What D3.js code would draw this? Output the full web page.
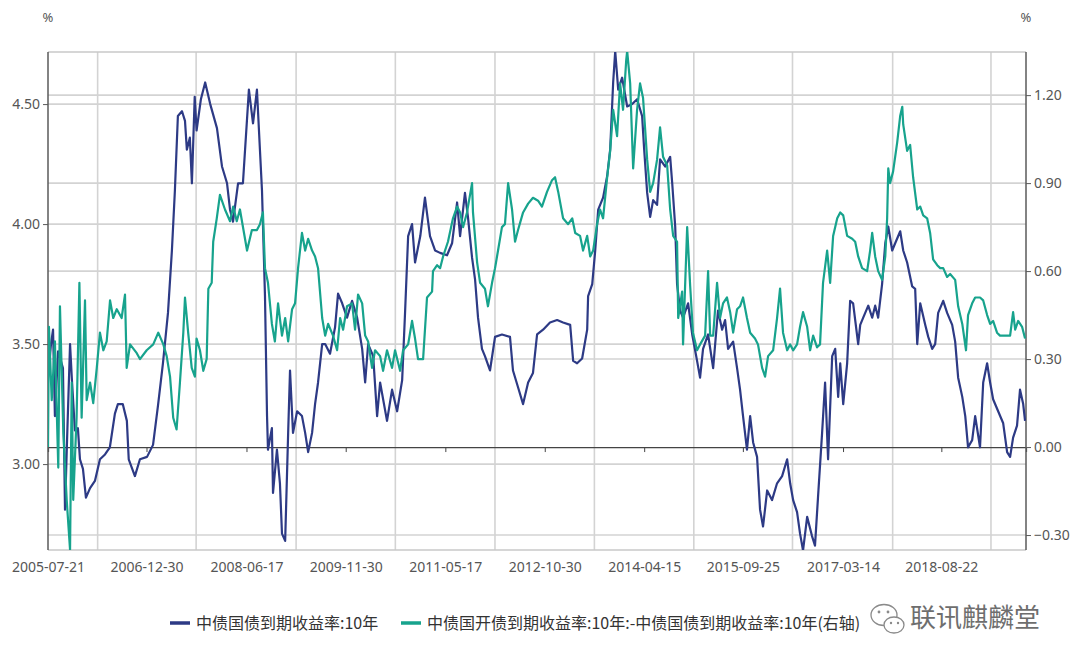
<!DOCTYPE html>
<html><head><meta charset="utf-8">
<script src="https://cdn.jsdelivr.net/npm/d3@7"></script>
<style>
html,body{margin:0;padding:0;background:#fff;}
svg{display:block;}
</style></head><body>
<svg id="chart" width="1080" height="665"></svg>
<script>
// ---------- data ----------
// dates are ISO-8601 ordinal dates (YYYY-DDD)
const xTickLabels = ["2005-07-21","2006-12-30","2008-06-17","2009-11-30","2011-05-17","2012-10-30","2014-04-15","2015-09-25","2017-03-14","2018-08-22"];
const xDomain = ["2005-07-21","2019-11-18"];
const leftTicks = [3.00, 3.50, 4.00, 4.50];
const rightTicks = [-0.30, 0.00, 0.30, 0.60, 0.90, 1.20];
const leftRange = [2.642, 4.717];
const rightRange = [-0.351, 1.347];
const seriesNames = ["中债国债到期收益率:10年", "中债国开债到期收益率:10年:-中债国债到期收益率:10年(右轴)"];
const unitLabel = "%";
const watermark = "联讯麒麟堂";

// 中债国债到期收益率:10年 (left axis)
const govYield = [
["2005-202",3.36],["2005-218",3.50],["2005-229",3.56],["2005-239",3.20],["2005-256",3.47],["2005-282",3.40],["2005-293",2.81],["2005-304",3.10],["2005-320",3.50],["2005-330",3.35],["2005-346",3.14],["2005-362",3.15],
["2006-008",3.02],["2006-024",2.98],["2006-040",2.86],["2006-062",2.90],["2006-088",2.93],["2006-115",3.02],["2006-142",3.04],["2006-168",3.07],["2006-195",3.21],["2006-211",3.25],["2006-237",3.25],["2006-259",3.18],["2006-269",3.02],["2006-302",2.95],["2006-329",3.02],
["2007-002",3.03],["2007-034",3.08],["2007-060",3.24],["2007-087",3.42],["2007-114",3.63],["2007-135",3.89],["2007-151",4.14],["2007-167",4.45],["2007-189",4.47],["2007-205",4.43],["2007-215",4.31],["2007-231",4.36],["2007-242",4.17],["2007-257",4.53],["2007-267",4.39],["2007-290",4.52],["2007-313",4.59],["2007-340",4.50],
["2008-011",4.40],["2008-038",4.24],["2008-065",4.17],["2008-081",4.06],["2008-097",4.01],["2008-124",4.17],["2008-150",4.17],["2008-182",4.56],["2008-204",4.42],["2008-225",4.56],["2008-241",4.31],["2008-252",4.14],["2008-268",3.70],["2008-279",3.20],["2008-284",3.06],["2008-305",3.15],["2008-311",2.88],["2008-332",3.06],["2008-348",2.92],["2008-359",2.71],
["2009-010",2.68],["2009-026",3.13],["2009-036",3.39],["2009-052",3.13],["2009-074",3.22],["2009-100",3.20],["2009-117",3.13],["2009-133",3.05],["2009-154",3.13],["2009-170",3.25],["2009-186",3.34],["2009-208",3.50],["2009-224",3.50],["2009-250",3.46],["2009-277",3.57],["2009-293",3.71],["2009-315",3.67],["2009-341",3.61],
["2010-003",3.68],["2010-030",3.61],["2010-057",3.48],["2010-073",3.34],["2010-089",3.50],["2010-116",3.45],["2010-137",3.20],["2010-153",3.34],["2010-190",3.18],["2010-217",3.31],["2010-244",3.22],["2010-271",3.35],["2010-287",3.64],["2010-303",3.95],["2010-324",4.00],["2010-340",3.84],
["2011-003",3.95],["2011-028",4.11],["2011-055",3.95],["2011-082",3.89],["2011-109",3.88],["2011-146",3.87],["2011-173",3.92],["2011-200",4.09],["2011-216",3.95],["2011-242",4.13],["2011-258",4.03],["2011-280",3.86],["2011-296",3.77],["2011-312",3.61],["2011-333",3.48],["2011-349",3.45],
["2012-011",3.39],["2012-038",3.53],["2012-075",3.54],["2012-118",3.53],["2012-134",3.39],["2012-161",3.32],["2012-188",3.25],["2012-215",3.34],["2012-241",3.38],["2012-263",3.54],["2012-295",3.56],["2012-332",3.59],
["2013-004",3.60],["2013-036",3.59],["2013-074",3.58],["2013-090",3.43],["2013-111",3.42],["2013-138",3.44],["2013-165",3.56],["2013-170",3.70],["2013-192",3.75],["2013-208",3.89],["2013-224",4.06],["2013-250",4.11],["2013-272",4.20],["2013-288",4.31],["2013-304",4.59],["2013-315",4.72],["2013-331",4.56],["2013-352",4.61],
["2014-014",4.49],["2014-041",4.50],["2014-067",4.52],["2014-094",4.45],["2014-105",4.31],["2014-121",4.13],["2014-137",4.03],["2014-153",4.10],["2014-174",4.08],["2014-190",4.27],["2014-217",4.24],["2014-244",4.28],["2014-255",4.17],["2014-271",3.99],["2014-281",3.75],["2014-297",3.64],["2014-313",3.61],["2014-340",3.67],["2014-362",3.54],
["2015-023",3.43],["2015-039",3.36],["2015-055",3.48],["2015-082",3.54],["2015-109",3.40],["2015-135",3.64],["2015-157",3.56],["2015-173",3.60],["2015-189",3.48],["2015-216",3.51],["2015-237",3.40],["2015-253",3.31],["2015-269",3.20],["2015-290",3.06],["2015-307",3.20],["2015-323",3.09],["2015-344",3.03],["2015-360",2.81],
["2016-011",2.74],["2016-033",2.89],["2016-059",2.85],["2016-086",2.92],["2016-113",2.95],["2016-140",3.02],["2016-156",2.92],["2016-172",2.85],["2016-193",2.80],["2016-209",2.71],["2016-225",2.64],["2016-247",2.78],["2016-273",2.70],["2016-289",2.66],["2016-305",2.86],["2016-327",3.13],["2016-343",3.34],["2016-359",3.02],
["2017-015",3.45],["2017-031",3.48],["2017-047",3.28],["2017-058",3.42],["2017-074",3.25],["2017-095",3.42],["2017-111",3.68],["2017-127",3.67],["2017-154",3.50],["2017-165",3.58],["2017-181",3.61],["2017-208",3.66],["2017-229",3.61],["2017-245",3.66],["2017-261",3.61],["2017-282",3.75],["2017-299",3.92],["2017-315",3.99],["2017-336",3.89],["2017-352",3.92],
["2018-014",3.97],["2018-030",3.89],["2018-051",3.84],["2018-078",3.74],["2018-094",3.73],["2018-105",3.50],["2018-121",3.67],["2018-148",3.58],["2018-164",3.53],["2018-185",3.48],["2018-201",3.50],["2018-217",3.63],["2018-244",3.68],["2018-265",3.63],["2018-292",3.58],["2018-308",3.51],["2018-324",3.36],["2018-346",3.28],["2018-362",3.20],
["2019-012",3.07],["2019-034",3.10],["2019-050",3.20],["2019-066",3.12],["2019-076",3.07],["2019-093",3.34],["2019-114",3.42],["2019-130",3.34],["2019-146",3.27],["2019-173",3.22],["2019-200",3.17],["2019-221",3.05],["2019-237",3.03],["2019-253",3.11],["2019-274",3.16],["2019-290",3.31],["2019-307",3.25],["2019-317",3.18]
];

// 中债国开债10年 - 中债国债10年 spread (right axis)
const spread = [
["2005-202",0.00],["2005-207",0.41],["2005-222",0.16],["2005-239",0.36],["2005-257",-0.07],["2005-266",0.48],["2005-284",0.05],["2005-302",-0.18],["2005-320",-0.35],["2005-329",0.22],["2005-337",-0.18],["2005-355",0.10],
["2006-005",0.56],["2006-017",0.10],["2006-035",0.50],["2006-044",0.16],["2006-062",0.22],["2006-079",0.15],["2006-098",0.27],["2006-115",0.39],["2006-133",0.33],["2006-151",0.36],["2006-169",0.50],["2006-186",0.44],["2006-205",0.47],["2006-231",0.44],["2006-249",0.52],["2006-258",0.27],["2006-276",0.35],["2006-312",0.32],["2006-329",0.30],["2006-365",0.33],
["2007-035",0.35],["2007-062",0.39],["2007-089",0.35],["2007-107",0.31],["2007-125",0.24],["2007-142",0.10],["2007-160",0.06],["2007-178",0.22],["2007-196",0.39],["2007-205",0.51],["2007-222",0.39],["2007-241",0.27],["2007-258",0.24],["2007-267",0.37],["2007-285",0.33],["2007-303",0.26],["2007-321",0.30],["2007-330",0.54],["2007-348",0.56],["2007-356",0.70],
["2008-010",0.78],["2008-027",0.86],["2008-054",0.81],["2008-081",0.77],["2008-098",0.82],["2008-117",0.77],["2008-134",0.81],["2008-172",0.67],["2008-198",0.74],["2008-225",0.74],["2008-241",0.76],["2008-257",0.80],["2008-268",0.61],["2008-284",0.56],["2008-305",0.42],["2008-321",0.36],["2008-338",0.49],["2008-359",0.38],
["2009-010",0.44],["2009-026",0.36],["2009-047",0.47],["2009-063",0.49],["2009-079",0.61],["2009-100",0.73],["2009-117",0.67],["2009-133",0.71],["2009-154",0.67],["2009-170",0.65],["2009-186",0.61],["2009-208",0.44],["2009-224",0.38],["2009-240",0.42],["2009-266",0.38],["2009-288",0.33],["2009-304",0.44],["2009-320",0.40],["2009-341",0.48],
["2010-003",0.49],["2010-019",0.40],["2010-035",0.52],["2010-057",0.49],["2010-073",0.38],["2010-089",0.36],["2010-110",0.27],["2010-126",0.33],["2010-153",0.31],["2010-169",0.26],["2010-190",0.33],["2010-217",0.27],["2010-233",0.33],["2010-260",0.26],["2010-276",0.33],["2010-303",0.35],["2010-324",0.43],["2010-340",0.37],["2010-356",0.30],
["2011-018",0.30],["2011-039",0.51],["2011-066",0.53],["2011-071",0.60],["2011-093",0.62],["2011-109",0.61],["2011-125",0.65],["2011-151",0.70],["2011-178",0.78],["2011-200",0.82],["2011-216",0.80],["2011-232",0.75],["2011-253",0.80],["2011-280",0.90],["2011-285",0.80],["2011-307",0.63],["2011-323",0.56],["2011-349",0.54],["2011-365",0.48],
["2012-022",0.56],["2012-038",0.61],["2012-054",0.67],["2012-075",0.75],["2012-091",0.76],["2012-108",0.90],["2012-129",0.81],["2012-145",0.70],["2012-161",0.74],["2012-188",0.80],["2012-215",0.83],["2012-241",0.85],["2012-268",0.84],["2012-289",0.82],["2012-316",0.87],["2012-343",0.91],["2012-359",0.92],
["2013-010",0.87],["2013-036",0.78],["2013-063",0.76],["2013-085",0.78],["2013-101",0.73],["2013-127",0.72],["2013-143",0.67],["2013-165",0.72],["2013-181",0.65],["2013-197",0.67],["2013-218",0.76],["2013-234",0.81],["2013-250",0.78],["2013-272",0.92],["2013-288",1.01],["2013-304",1.15],["2013-325",1.06],["2013-341",1.24],["2013-357",1.15],
["2014-009",1.32],["2014-014",1.35],["2014-030",1.24],["2014-046",0.95],["2014-067",1.15],["2014-083",1.24],["2014-099",1.19],["2014-121",0.98],["2014-137",0.87],["2014-153",0.90],["2014-174",0.98],["2014-190",1.09],["2014-206",0.99],["2014-228",0.96],["2014-244",0.81],["2014-260",0.72],["2014-281",0.70],["2014-287",0.44],["2014-308",0.53],["2014-313",0.35],["2014-335",0.75],["2014-351",0.55],
["2015-001",0.39],["2015-023",0.33],["2015-039",0.35],["2015-066",0.38],["2015-082",0.60],["2015-093",0.38],["2015-109",0.38],["2015-130",0.56],["2015-146",0.44],["2015-162",0.49],["2015-183",0.51],["2015-200",0.46],["2015-216",0.39],["2015-237",0.47],["2015-253",0.48],["2015-269",0.51],["2015-290",0.44],["2015-307",0.39],["2015-333",0.37],["2015-349",0.35],
["2016-006",0.27],["2016-022",0.24],["2016-038",0.31],["2016-065",0.33],["2016-086",0.44],["2016-102",0.54],["2016-118",0.39],["2016-140",0.33],["2016-156",0.35],["2016-172",0.33],["2016-193",0.35],["2016-209",0.41],["2016-225",0.46],["2016-247",0.41],["2016-263",0.33],["2016-279",0.38],["2016-300",0.34],["2016-316",0.35],["2016-332",0.56],["2016-354",0.67],
["2017-004",0.56],["2017-020",0.72],["2017-042",0.78],["2017-058",0.80],["2017-074",0.79],["2017-095",0.72],["2017-122",0.71],["2017-138",0.70],["2017-154",0.65],["2017-175",0.61],["2017-202",0.60],["2017-218",0.67],["2017-229",0.73],["2017-245",0.65],["2017-261",0.60],["2017-282",0.57],["2017-299",0.65],["2017-309",0.78],["2017-315",0.95],["2017-325",0.90],["2017-341",0.94],["2017-363",1.04],
["2018-014",1.13],["2018-025",1.16],["2018-030",1.10],["2018-051",1.01],["2018-067",1.03],["2018-083",0.92],["2018-105",0.81],["2018-121",0.82],["2018-137",0.79],["2018-158",0.78],["2018-174",0.73],["2018-190",0.64],["2018-212",0.62],["2018-228",0.61],["2018-244",0.61],["2018-265",0.58],["2018-281",0.59],["2018-308",0.57],["2018-324",0.48],["2018-346",0.42],
["2019-001",0.33],["2019-012",0.45],["2019-034",0.49],["2019-050",0.51],["2019-076",0.51],["2019-093",0.50],["2019-114",0.45],["2019-130",0.42],["2019-146",0.43],["2019-167",0.39],["2019-183",0.38],["2019-210",0.38],["2019-237",0.38],["2019-253",0.46],["2019-264",0.40],["2019-280",0.43],["2019-301",0.41],["2019-317",0.37]
];

// ---------- chart ----------
const parseOrd = d3.timeParse("%Y-%j");
const parseDay = d3.timeParse("%Y-%m-%d");
const plot = {left: 48, right: 1026, top: 52, bottom: 550};
const colNavy = "#2d3a85", colTeal = "#17a38d";
const gridCol = "#d3d3d3", axisCol = "#5a5a5a", textCol = "#555";
const tickFont = "'Noto Sans', 'Open Sans', sans-serif";
const cjkFont = "'Noto Sans CJK SC', 'Noto Sans', sans-serif";

const svg = d3.select("#chart");
const x = d3.scaleTime().domain(xDomain.map(parseDay)).range([plot.left, plot.right]);
const yL = d3.scaleLinear().domain(leftRange).range([plot.bottom, plot.top]);
const yR = d3.scaleLinear().domain(rightRange).range([plot.bottom, plot.top]);
const tickDates = xTickLabels.map(parseDay);

// horizontal grid (both axes)
const g = svg.append("g");
g.selectAll("line.hl").data(leftTicks).join("line")
  .attr("x1", plot.left).attr("x2", plot.right)
  .attr("y1", d => yL(d)).attr("y2", d => yL(d))
  .attr("stroke", gridCol).attr("stroke-width", 1.6);
g.selectAll("line.hr").data(rightTicks.filter(d => d !== 0)).join("line")
  .attr("x1", plot.left).attr("x2", plot.right)
  .attr("y1", d => yR(d)).attr("y2", d => yR(d))
  .attr("stroke", gridCol).attr("stroke-width", 1.6);

// vertical grid at midpoints between date labels
const tx = tickDates.map(d => x(d));
const step = (tx[tx.length - 1] - tx[0]) / (tx.length - 1);
const vgrid = tx.map(v => v + step / 2).filter(v => v < plot.right);
g.selectAll("line.v").data(vgrid).join("line")
  .attr("x1", d => d).attr("x2", d => d)
  .attr("y1", plot.top).attr("y2", plot.bottom)
  .attr("stroke", gridCol).attr("stroke-width", 1.6);

// border top/bottom
g.append("line").attr("x1", plot.left).attr("x2", plot.right).attr("y1", plot.top).attr("y2", plot.top)
  .attr("stroke", "#c8c8c8").attr("stroke-width", 1.6);
g.append("line").attr("x1", plot.left).attr("x2", plot.right).attr("y1", plot.bottom).attr("y2", plot.bottom)
  .attr("stroke", "#c8c8c8").attr("stroke-width", 1.6);

// zero line with date ticks
const zeroAxis = svg.append("g").attr("transform", `translate(0,${yR(0)})`)
  .call(d3.axisBottom(x).tickValues(tickDates).tickSize(5).tickFormat(""));
zeroAxis.select(".domain").attr("stroke", "#444").attr("stroke-width", 1.2);
zeroAxis.selectAll(".tick line").attr("stroke", "#444");

// date labels
const xLab = svg.append("g").attr("transform", `translate(0,${plot.bottom})`)
  .call(d3.axisBottom(x).tickValues(tickDates).tickSize(0).tickPadding(12).tickFormat((d, i) => xTickLabels[i]));
xLab.select(".domain").remove();
xLab.selectAll("text").attr("font-family", tickFont).attr("font-size", 14).attr("fill", textCol);

// left axis
const la = svg.append("g").attr("transform", `translate(${plot.left},0)`)
  .call(d3.axisLeft(yL).tickValues(leftTicks).tickSize(5).tickPadding(3).tickFormat(d3.format(".2f")));
la.select(".domain").attr("stroke", axisCol).attr("stroke-width", 1.5).attr("d", `M0,${plot.top}V${plot.bottom}`);
la.selectAll(".tick line").attr("stroke", axisCol);
la.selectAll("text").attr("font-family", tickFont).attr("font-size", 14).attr("fill", textCol);

// right axis
const ra = svg.append("g").attr("transform", `translate(${plot.right},0)`)
  .call(d3.axisRight(yR).tickValues(rightTicks).tickSize(5).tickPadding(3).tickFormat(d3.format(".2f")));
ra.select(".domain").attr("stroke", axisCol).attr("stroke-width", 1.5).attr("d", `M0,${plot.top}V${plot.bottom}`);
ra.selectAll(".tick line").attr("stroke", axisCol);
ra.selectAll("text").attr("font-family", tickFont).attr("font-size", 14).attr("fill", textCol);

// unit labels
svg.append("text").attr("x", plot.left).attr("y", 22).attr("text-anchor", "middle")
  .attr("font-family", tickFont).attr("font-size", 13).attr("fill", textCol).text(unitLabel);
svg.append("text").attr("x", plot.right).attr("y", 22).attr("text-anchor", "middle")
  .attr("font-family", tickFont).attr("font-size", 13).attr("fill", textCol).text(unitLabel);

// lines
svg.append("clipPath").attr("id", "clip").append("rect")
  .attr("x", plot.left).attr("y", plot.top).attr("width", plot.right - plot.left).attr("height", plot.bottom - plot.top);
const lineL = d3.line().x(d => x(parseOrd(d[0]))).y(d => yL(d[1]));
const lineR = d3.line().x(d => x(parseOrd(d[0]))).y(d => yR(d[1]));
const lg = svg.append("g").attr("clip-path", "url(#clip)");
lg.append("path").datum(govYield).attr("d", lineL).attr("fill", "none")
  .attr("stroke", colNavy).attr("stroke-width", 2.2).attr("stroke-linejoin", "round");
lg.append("path").datum(spread).attr("d", lineR).attr("fill", "none")
  .attr("stroke", colTeal).attr("stroke-width", 2.2).attr("stroke-linejoin", "round");

// legend
const legY = 623;
const legItems = [{name: seriesNames[0], col: colNavy, x: 170}, {name: seriesNames[1], col: colTeal, x: 401}];
legItems.forEach(it => {
  svg.append("line").attr("x1", it.x).attr("x2", it.x + 20).attr("y1", legY).attr("y2", legY)
    .attr("stroke", it.col).attr("stroke-width", 3.5);
  svg.append("text").attr("x", it.x + 26).attr("y", legY).attr("dy", "0.35em")
    .attr("font-family", cjkFont).attr("font-size", 16).attr("fill", "#333").text(it.name);
});

// watermark
const wm = svg.append("g").attr("transform", "translate(884,617)").attr("fill", "none").attr("stroke", "#8a8a8a").attr("stroke-width", 1.3);
wm.append("ellipse").attr("cx", 0).attr("cy", -2).attr("rx", 13).attr("ry", 10.5);
wm.append("ellipse").attr("cx", 10).attr("cy", 8).attr("rx", 10).attr("ry", 8).attr("fill", "#fff");
wm.append("circle").attr("cx", -5).attr("cy", -5).attr("r", 1.4).attr("fill", "#8a8a8a").attr("stroke", "none");
wm.append("circle").attr("cx", 4).attr("cy", -5).attr("r", 1.4).attr("fill", "#8a8a8a").attr("stroke", "none");
wm.append("circle").attr("cx", 7).attr("cy", 6).attr("r", 1.2).attr("fill", "#8a8a8a").attr("stroke", "none");
wm.append("circle").attr("cx", 14).attr("cy", 6).attr("r", 1.2).attr("fill", "#8a8a8a").attr("stroke", "none");
svg.append("text").attr("x", 910).attr("y", 618).attr("dy", "0.35em")
  .attr("font-family", cjkFont).attr("font-size", 26).attr("fill", "#6e6e6e")
  .attr("stroke", "#fff").attr("stroke-width", 0.6).attr("paint-order", "stroke")
  .text(watermark);
</script>
</body></html>
